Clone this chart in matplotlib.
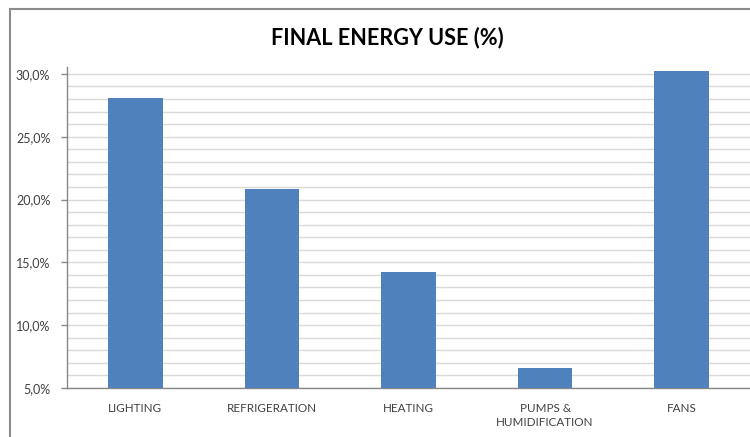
import matplotlib
matplotlib.use("Agg")
import matplotlib.pyplot as plt
from matplotlib.lines import Line2D
from matplotlib.ticker import FuncFormatter, MultipleLocator

categories = ["LIGHTING", "REFRIGERATION", "HEATING", "PUMPS &\nHUMIDIFICATION", "FANS"]
energy_share = [28.1, 20.8, 14.2, 6.6, 30.2]
y_ticks = [5, 10, 15, 20, 25, 30]

plt.rcParams["font.family"] = ["Lato", "DejaVu Sans"]

fig = plt.figure(figsize=(7.5, 4.37), dpi=100, facecolor="white")
ax = fig.add_axes([0.0893, 0.1121, 0.9107, 0.7346])

x = range(len(categories))
ax.bar(x, energy_share, width=0.4, color="#4F81BD", zorder=3)

ax.set_xlim(-0.5, len(categories) - 0.5)
ax.set_ylim(5, 30.55)
ax.set_yticks(y_ticks)
ax.yaxis.set_minor_locator(MultipleLocator(1))
ax.yaxis.set_major_formatter(FuncFormatter(lambda v, _: f"{v:.1f}%".replace(".", ",")))
ax.set_xticks(list(x))
ax.set_xticklabels(categories, fontsize=8.4, color="#404040", linespacing=1.35)

ax.grid(axis="y", which="both", color="#d9d9d9", linewidth=1.0, zorder=0)
ax.tick_params(axis="y", which="major", length=4, width=1, color="#888888",
               pad=8, labelsize=9, labelcolor="#404040")
ax.tick_params(axis="y", which="minor", length=0)
ax.tick_params(axis="x", length=0, pad=11)

for side in ("top", "right"):
    ax.spines[side].set_visible(False)
for side in ("left", "bottom"):
    ax.spines[side].set_color("#888888")
    ax.spines[side].set_linewidth(1)

fig.text(0.516, 0.915, "FINAL ENERGY USE (%)", ha="center", va="center",
         fontsize=15.6, fontweight="bold", color="black")

# chart frame (top and left edges)
fig.add_artist(Line2D([10 / 750, 1], [1 - 9 / 437] * 2, transform=fig.transFigure,
                      color="#8c8c8c", linewidth=1.5))
fig.add_artist(Line2D([10 / 750] * 2, [0, 1 - 9 / 437], transform=fig.transFigure,
                      color="#8c8c8c", linewidth=1.5))

fig.savefig("out.png", dpi=100, facecolor="white")
